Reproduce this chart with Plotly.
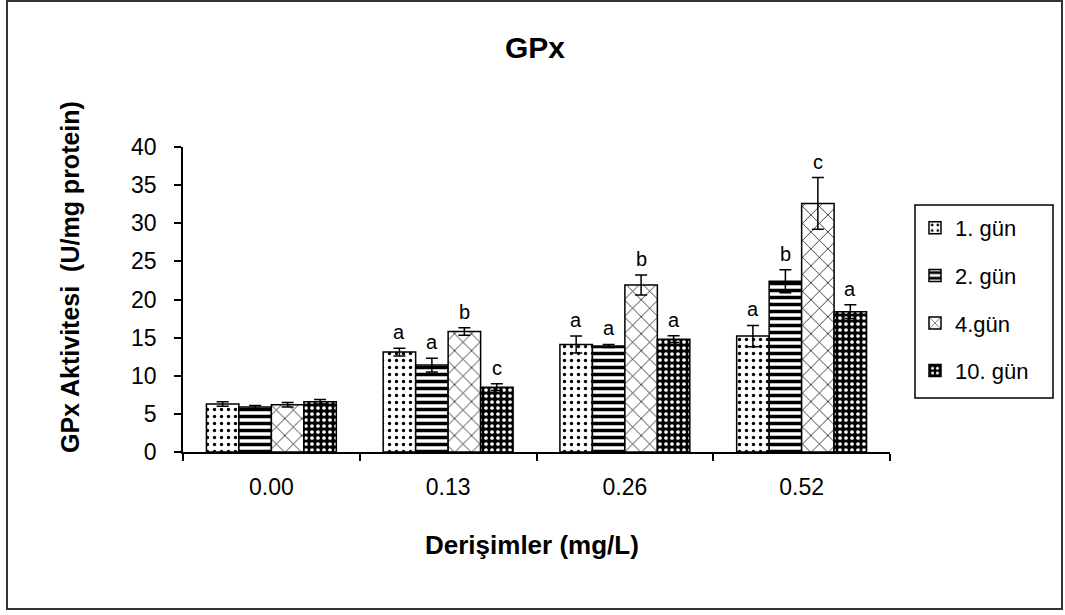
import plotly.graph_objects as go

# Concentrations (categories) and exposure days (series)
concentrations = ["0.00", "0.13", "0.26", "0.52"]
series_names = ["1. gün", "2. gün", "4.gün", "10. gün"]

day1 = [6.3, 13.1, 14.1, 15.2]
day2 = [5.9, 11.4, 13.9, 22.4]
day4 = [6.2, 15.8, 21.9, 32.6]
day10 = [6.6, 8.5, 14.8, 18.4]

err_day1 = [0.3, 0.5, 1.1, 1.4]
err_day2 = [0.2, 0.9, 0.2, 1.5]
err_day4 = [0.3, 0.5, 1.3, 3.4]
err_day10 = [0.3, 0.45, 0.45, 0.9]

# Significance letters above each bar (empty for the control group)
letters_day1 = ["", "a", "a", "a"]
letters_day2 = ["", "a", "a", "b"]
letters_day4 = ["", "b", "b", "c"]
letters_day10 = ["", "c", "a", "a"]

values = [day1, day2, day4, day10]
errors = [err_day1, err_day2, err_day4, err_day10]
letters = [letters_day1, letters_day2, letters_day4, letters_day10]

FONT = "Arial, 'Liberation Sans', sans-serif"
W, H = 1065, 615
ML, MR, MT, MB = 183, 175, 147, 163
BARGAP = 0.265

patterns = [
    dict(shape=".", fgcolor="black", bgcolor="white", size=7, solidity=0.18, fgopacity=1),
    dict(shape="-", fgcolor="black", bgcolor="white", size=7, solidity=0.5, fgopacity=1),
    dict(shape="x", fgcolor="black", bgcolor="white", size=12, solidity=0.12, fgopacity=1),
    dict(shape=".", fgcolor="white", bgcolor="black", size=6, solidity=0.3, fgopacity=1),
]

fig = go.Figure()
for i, name in enumerate(series_names):
    fig.add_trace(go.Bar(
        name=name,
        x=concentrations,
        y=values[i],
        legendgroup=name,
        marker=dict(color="white", line=dict(color="black", width=1.5),
                    pattern=patterns[i]),
        error_y=dict(type="data", array=errors[i], visible=True,
                     color="black", thickness=1.5, width=6),
    ))

# Letters placed above the error whiskers, at each bar's centre
n = len(series_names)
group_w = 1 - BARGAP
bar_w = group_w / n
annotations = []
for i in range(n):
    for j, cat in enumerate(concentrations):
        if not letters[i][j]:
            continue
        annotations.append(dict(
            x=j - group_w / 2 + (i + 0.5) * bar_w, xref="x",
            y=values[i][j] + errors[i][j], yref="y",
            text=letters[i][j], showarrow=False,
            xanchor="center", yanchor="bottom", yshift=3,
            font=dict(family=FONT, size=20, color="black"),
        ))

pw = W - ML - MR
ph = H - MT - MB


def px_to_paper_x(px):
    return (px - ML) / pw


def px_to_paper_y(py):
    return (H - MB - py) / ph


annotations += [
    dict(text="<b>GPx</b>", x=px_to_paper_x(535), y=px_to_paper_y(47),
         xref="paper", yref="paper", showarrow=False,
         xanchor="center", yanchor="middle",
         font=dict(family=FONT, size=30, color="black")),
    dict(text="<b>GPx Aktivitesi&nbsp;&nbsp;(U/mg protein)</b>", textangle=-90,
         x=px_to_paper_x(70), y=px_to_paper_y(277),
         xref="paper", yref="paper", showarrow=False,
         xanchor="center", yanchor="middle",
         font=dict(family=FONT, size=25, color="black")),
    dict(text="<b>Derişimler (mg/L)</b>",
         x=px_to_paper_x(532), y=px_to_paper_y(545),
         xref="paper", yref="paper", showarrow=False,
         xanchor="center", yanchor="middle",
         font=dict(family=FONT, size=26, color="black")),
]

fig.update_layout(
    width=W, height=H,
    margin=dict(l=ML, r=MR, t=MT, b=MB),
    paper_bgcolor="white", plot_bgcolor="white",
    barmode="group", bargap=BARGAP, bargroupgap=0,
    font=dict(family=FONT, size=22, color="black"),
    annotations=annotations,
    legend=dict(
        x=px_to_paper_x(915), y=px_to_paper_y(207),
        xanchor="left", yanchor="top",
        borderwidth=0, bgcolor="rgba(0,0,0,0)",
        font=dict(family=FONT, size=22, color="black"),
        tracegroupgap=16, itemwidth=30,
    ),
    shapes=[
        # outer chart frame
        dict(type="rect", xref="paper", yref="paper",
             x0=px_to_paper_x(7), x1=px_to_paper_x(1062),
             y0=px_to_paper_y(609), y1=px_to_paper_y(1),
             line=dict(color="#333333", width=2)),
        # legend box
        dict(type="rect", xref="paper", yref="paper",
             x0=px_to_paper_x(915), x1=px_to_paper_x(1053),
             y0=px_to_paper_y(398), y1=px_to_paper_y(205),
             line=dict(color="black", width=1.5)),
    ],
)

fig.update_xaxes(
    type="category", showline=True, linecolor="black", linewidth=1.5,
    ticks="outside", tickson="boundaries", ticklen=7, tickcolor="black",
    tickwidth=1.5, ticklabelstandoff=14, showgrid=False, zeroline=False,
    tickfont=dict(family=FONT, size=23, color="black"),
)
fig.update_yaxes(
    range=[0, 40], dtick=5, showline=True, linecolor="black", linewidth=1.5,
    ticks="outside", ticklen=7, tickcolor="black", tickwidth=1.5,
    ticklabelstandoff=13, showgrid=False, zeroline=False,
    tickfont=dict(family=FONT, size=23, color="black"),
)

fig.write_html("out.html")
